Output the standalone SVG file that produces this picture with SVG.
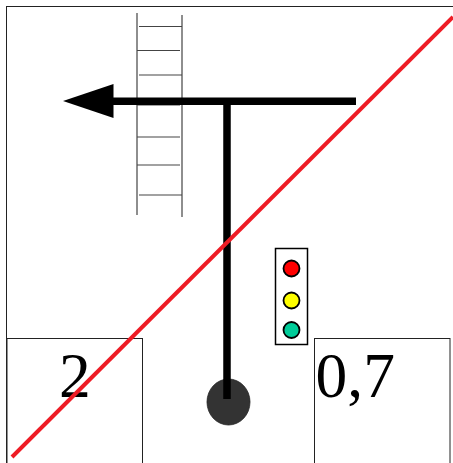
<svg xmlns="http://www.w3.org/2000/svg" width="453" height="463" viewBox="0 0 453 463">
<style>
.frame{fill:none;stroke:#222;stroke-width:1}
.thin{stroke:#444;stroke-width:1.2;fill:none}
.thick{stroke:#000;stroke-width:7.500;fill:none}
.lamp{stroke:#000;stroke-width:1.8}
.num{font-family:"Liberation Serif","Times New Roman",serif;font-size:63.500px;fill:#000}
</style>
<rect width="453" height="463" fill="#fff"/>
<rect id="frame" class="frame" x="6.500" y="6.500" width="460" height="470"/>
<g id="ladder" class="thin">
<path d="M137 13V215M182 15V217M139 26.500H182M137 50.500H180M139 75H182M137 105H180M137 137H180M137 165H180M139 195H182"/>
</g>
<g id="box-left"><rect class="frame" x="7" y="338.500" width="135.500" height="130"/><text class="num" x="59" y="397">2</text></g>
<g id="box-right"><rect class="frame" x="314.500" y="338.500" width="135.500" height="130"/><text class="num" x="315.500" y="397">0,7</text></g>
<g id="traffic-light">
<rect x="275.500" y="248.500" width="32" height="96" fill="#fff" stroke="#000" stroke-width="1.500"/>
<circle class="lamp" cx="291.500" cy="268.500" r="8" fill="#f00"/>
<circle class="lamp" cx="291.500" cy="300.500" r="8" fill="#ff0"/>
<circle class="lamp" cx="291.500" cy="330" r="8" fill="#0c9"/>
</g>
<g id="post"><ellipse cx="228.500" cy="402" rx="21.500" ry="23" fill="#333" stroke="#222" stroke-width="0.800"/></g>
<g id="connectors">
<path class="thick" d="M227 399V101.200M356 101.200H112"/>
<polygon points="63,101 113.500,84 113.500,118" fill="#000"/>
<line x1="12" y1="457" x2="453" y2="17" stroke="#ee1c25" stroke-width="4"/>
</g>
</svg>
